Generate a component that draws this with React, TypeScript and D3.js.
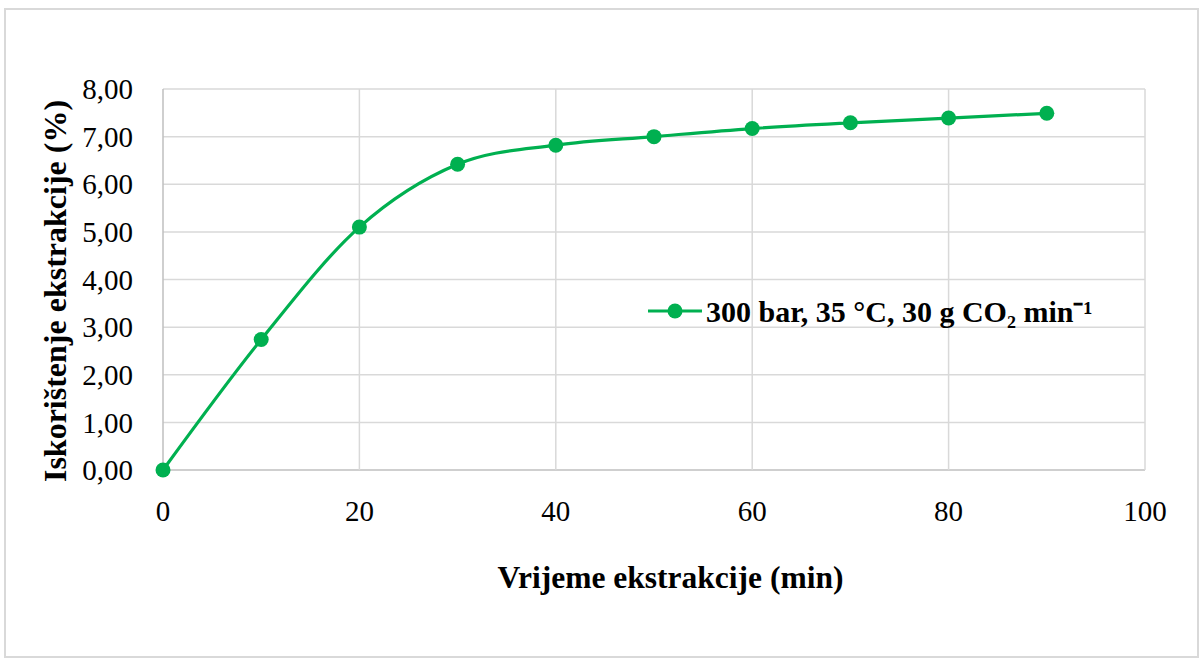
import React from "react";
import * as d3 from "d3";

const times = [0, 10, 20, 30, 40, 50, 60, 70, 80, 90];
const yieldPct = [0, 2.74, 5.1, 6.42, 6.82, 7.0, 7.17, 7.29, 7.39, 7.49];
const xTicks = [0, 20, 40, 60, 80, 100];
const yTicks = [0, 1, 2, 3, 4, 5, 6, 7, 8];
const seriesName = "300 bar, 35 °C, 30 g CO₂ min⁻¹";
const xTitle = "Vrijeme ekstrakcije (min)";
const yTitle = "Iskorištenje ekstrakcije (%)";

const W = 1200;
const H = 663;
const left = 163, right = 1145, top = 89, bottom = 470;
const green = "#00b050";
const grid = "#d9d9d9";
const font = "Liberation Serif";

export default function App() {
  const x = d3.scaleLinear().domain([0, 100]).range([left, right]);
  const y = d3.scaleLinear().domain([0, 8]).range([bottom, top]);
  const pts = times.map((t, i) => [x(t), y(yieldPct[i])] as [number, number]);
  const line = d3.line().curve(d3.curveCardinal.tension(0))(pts) || "";
  const fmt = (v: number) => v.toFixed(2).replace(".", ",");
  return (
    <svg width={W} height={H} style={{ position: "absolute", left: 0, top: 0, background: "#fff" }}>
      <rect x={5} y={9} width={1193} height={648} fill="#fff" stroke={grid} strokeWidth={2} />
      {yTicks.map((t) => (
        <line key={"gy" + t} x1={left} x2={right} y1={y(t)} y2={y(t)} stroke={t === 0 ? "#bfbfbf" : grid} strokeWidth={1.5} />
      ))}
      {xTicks.map((t) => (
        <line key={"gx" + t} x1={x(t)} x2={x(t)} y1={top} y2={bottom} stroke={t === 0 ? "#bfbfbf" : grid} strokeWidth={1.5} />
      ))}
      {yTicks.map((t) => (
        <text key={"ty" + t} x={133} y={y(t)} dy="0.35em" textAnchor="end" fontFamily={font} fontSize={29} fill="#000">
          {fmt(t)}
        </text>
      ))}
      {xTicks.map((t) => (
        <text key={"tx" + t} x={x(t)} y={521} textAnchor="middle" fontFamily={font} fontSize={29} fill="#000">
          {t}
        </text>
      ))}
      <path d={line} fill="none" stroke={green} strokeWidth={3.2} />
      {pts.map((p, i) => (
        <circle key={"c" + i} cx={p[0]} cy={p[1]} r={7.5} fill={green} />
      ))}
      <text x={670.5} y={588} textAnchor="middle" fontFamily={font} fontSize={31.5} fontWeight="bold" fill="#000">
        {xTitle}
      </text>
      <text transform={`translate(66, 291) rotate(-90)`} textAnchor="middle" fontFamily={font} fontSize={32} fontWeight="bold" fill="#000">
        {yTitle}
      </text>
      <g transform="translate(648, 311)">
        <line x1={0} x2={54} y1={0} y2={0} stroke={green} strokeWidth={3.2} />
        <circle cx={27} cy={0} r={7.5} fill={green} />
        <text x={58} y={0} dy="0.35em" fontFamily={font} fontSize={30} fontWeight="bold" fill="#000">
          {seriesName}
        </text>
      </g>
    </svg>
  );
}
